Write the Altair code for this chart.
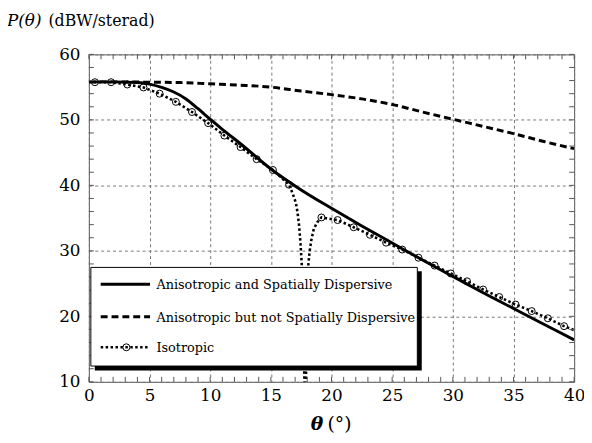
import altair as alt
import pandas as pd

# ---------------- data ----------------
# Anisotropic and Spatially Dispersive (solid)
sd_theta = [0, 2, 4, 5, 6, 7, 8, 9, 10, 11, 12.5, 15, 17.5, 20, 22.5, 25, 27.5, 30, 32.5, 35, 37.5, 40]
sd_p = [55.8, 55.8, 55.7, 55.45, 54.95, 54.25, 53.2, 51.7, 50.1, 48.55, 46.35, 42.5, 39.3, 36.5,
        33.8, 31.2, 28.6, 26.1, 23.6, 21.2, 18.8, 16.4]

# Anisotropic but not Spatially Dispersive (dashed)
nsd_theta = [0, 2.5, 5, 7.5, 10, 12.5, 15, 17.5, 20, 22.5, 25, 27.5, 30, 32.5, 35, 37.5, 40]
nsd_p = [55.8, 55.8, 55.75, 55.7, 55.5, 55.3, 55.0, 54.4, 53.85, 53.2, 52.35, 51.2, 50.1, 49.0,
         47.9, 46.7, 45.6]

# Isotropic (dotted with circle markers)
iso_theta = [0, 0.5, 1.83, 3.17, 4.5, 5.83, 7.17, 8.5, 9.83, 11.17, 12.5, 13.83, 15.17, 16.5,
             16.79, 17.06, 17.2, 17.33, 17.45, 17.55, 17.83, 18.09, 18.19, 18.33, 18.54, 18.82,
             19.17, 20.5, 21.83, 23.17, 24.5, 25.83, 27.17, 28.5, 29.83, 31.17, 32.5, 33.83,
             35.17, 36.5, 37.83, 39.17, 40]
iso_p = [55.8, 55.75, 55.75, 55.4, 54.95, 54.0, 52.75, 51.2, 49.5, 47.6, 45.85, 44.0, 42.35, 40.1,
         38.8, 37.35, 35.85, 33.85, 31.0, 27.85, 5.0, 27.85, 29.85, 31.6, 33.35, 34.35,
         35.1, 34.7, 33.6, 32.45, 31.25, 30.2, 28.95, 27.75, 26.55, 25.35, 24.1, 22.95,
         21.8, 20.8, 19.7, 18.5, 17.9]
iso_marker = [False, True, True, True, True, True, True, True, True, True, True, True, True, True,
              False, False, False, False, False, False, True, False, False, False, False, False,
              True, True, True, True, True, True, True, True, True, True, True, True,
              True, True, True, True, False]

x_ticks_major = [0, 5, 10, 15, 20, 25, 30, 35, 40]
x_ticks_minor = list(range(0, 41))
y_ticks_major = [10, 20, 30, 40, 50, 60]
y_ticks_minor = list(range(10, 61, 2))

legend_labels = ["Anisotropic and Spatially Dispersive",
                 "Anisotropic but not Spatially Dispersive",
                 "Isotropic"]

# ---------------- build chart ----------------
W, H = 492, 332
SERIF = "DejaVu Serif"

xscale = alt.Scale(domain=[0, 40], nice=False, zero=False)
yscale = alt.Scale(domain=[10, 60], nice=False, zero=False)

df_sd = pd.DataFrame({"theta": sd_theta, "p": sd_p})
df_nsd = pd.DataFrame({"theta": nsd_theta, "p": nsd_p})
df_iso = pd.DataFrame({"theta": iso_theta, "p": iso_p, "marker": iso_marker})

xenc = alt.X("theta:Q", scale=xscale,
             axis=alt.Axis(values=x_ticks_major, title=None, grid=True, labelPadding=6,
                           labelFlush=False))
yenc = alt.Y("p:Q", scale=yscale,
             axis=alt.Axis(values=y_ticks_major, title=None, grid=True, labelPadding=9,
                           labelFlush=False))

solid = alt.Chart(df_sd).mark_line(color="black", strokeWidth=3, clip=True,
                                   interpolate="monotone").encode(x=xenc, y=yenc)
dashed = alt.Chart(df_nsd).mark_line(color="black", strokeWidth=3, strokeDash=[7, 4], clip=True,
                                     interpolate="monotone").encode(
    x=alt.X("theta:Q", scale=xscale), y=alt.Y("p:Q", scale=yscale))
iso_line = alt.Chart(df_iso).mark_line(color="black", strokeWidth=2.6, strokeDash=[2.5, 2.5],
                                       clip=True).encode(
    x=alt.X("theta:Q", scale=xscale), y=alt.Y("p:Q", scale=yscale))
iso_pts = alt.Chart(df_iso).transform_filter("datum.marker").mark_point(
    shape="circle", filled=False, color="black", strokeWidth=1, size=50, clip=True, opacity=1
).encode(x=alt.X("theta:Q", scale=xscale), y=alt.Y("p:Q", scale=yscale))

TICK_COLOR = "#555"
df_xt = pd.DataFrame({"t": x_ticks_minor})
df_yt = pd.DataFrame({"t": y_ticks_minor})
xt_bottom = alt.Chart(df_xt).mark_rule(color=TICK_COLOR, strokeWidth=1).encode(
    x=alt.X("t:Q", scale=xscale), y=alt.value(H), y2=alt.value(H - 5))
xt_top = alt.Chart(df_xt).mark_rule(color=TICK_COLOR, strokeWidth=1).encode(
    x=alt.X("t:Q", scale=xscale), y=alt.value(0), y2=alt.value(5))
yt_left = alt.Chart(df_yt).mark_rule(color=TICK_COLOR, strokeWidth=1).encode(
    y=alt.Y("t:Q", scale=yscale), x=alt.value(0), x2=alt.value(5))
yt_right = alt.Chart(df_yt).mark_rule(color=TICK_COLOR, strokeWidth=1).encode(
    y=alt.Y("t:Q", scale=yscale), x=alt.value(W), x2=alt.value(W - 5))

one = pd.DataFrame({"a": [0]})

# legend box with shadow
shadow = alt.Chart(one).mark_rect(color="black").encode(
    x=alt.value(6), x2=alt.value(337.5), y=alt.value(220), y2=alt.value(320.5))
box = alt.Chart(one).mark_rect(fill="white", stroke="black", strokeWidth=1).encode(
    x=alt.value(2), x2=alt.value(333), y=alt.value(216), y2=alt.value(316))

rows_y = [233, 266, 297]
leg_layers = []
styles = [dict(strokeWidth=3), dict(strokeWidth=3, strokeDash=[7, 4]),
          dict(strokeWidth=2.6, strokeDash=[2.5, 2.5])]
for lbl, ry, st in zip(legend_labels, rows_y, styles):
    leg_layers.append(alt.Chart(one).mark_rule(color="black", **st).encode(
        x=alt.value(12), x2=alt.value(62), y=alt.value(ry)))
    leg_layers.append(alt.Chart(one).mark_text(
        align="left", baseline="alphabetic", font=SERIF, fontSize=13, color="black").encode(
        x=alt.value(68.5), y=alt.value(ry + 5), text=alt.value(lbl)))
leg_layers.append(alt.Chart(one).mark_point(
    shape="circle", filled=False, color="black", strokeWidth=1, size=50, opacity=1).encode(
    x=alt.value(38), y=alt.value(rows_y[2])))

# titles
t_p = alt.Chart(one).mark_text(align="left", baseline="alphabetic", font=SERIF, fontSize=17,
                               fontStyle="italic", color="black").encode(
    x=alt.value(-83), y=alt.value(-29), text=alt.value("P(θ)"))
t_unit = alt.Chart(one).mark_text(align="left", baseline="alphabetic", font=SERIF, fontSize=16,
                                  color="black").encode(
    x=alt.value(-41), y=alt.value(-29), text=alt.value("(dBW/sterad)"))
t_theta = alt.Chart(one).mark_text(align="left", baseline="alphabetic", font=SERIF, fontSize=19,
                                   fontStyle="italic", fontWeight="bold", color="black").encode(
    x=alt.value(225), y=alt.value(381), text=alt.value("θ"))
t_deg = alt.Chart(one).mark_text(align="left", baseline="alphabetic", font=SERIF, fontSize=19,
                                 color="black").encode(
    x=alt.value(242), y=alt.value(381), text=alt.value("(°)"))

chart = alt.layer(
    solid, dashed, iso_line, iso_pts,
    xt_bottom, xt_top, yt_left, yt_right,
    shadow, box, *leg_layers,
    t_p, t_unit, t_theta, t_deg,
).properties(
    width=W, height=H,
    autosize=alt.AutoSizeParams(type="none"),
    padding={"left": 82, "top": 44, "right": 10, "bottom": 59},
).configure_view(
    stroke="#555", strokeWidth=1
).configure_axis(
    grid=True, gridDash=[3, 3], gridColor="#777", gridWidth=1,
    domain=False, ticks=False, tickSize=0,
    labelFont=SERIF, labelFontSize=17, labelColor="black",
)

chart.save("out.html", embed_options={"renderer": "svg", "actions": False})
